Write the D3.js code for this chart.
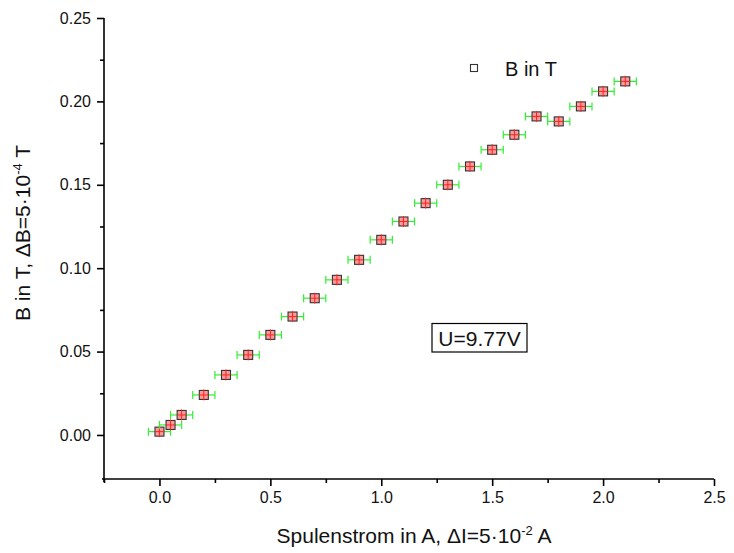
<!DOCTYPE html>
<html>
<head>
<meta charset="utf-8">
<script src="https://cdn.jsdelivr.net/npm/d3@7"></script>
<style>
  html, body { margin: 0; padding: 0; background: #fff; }
  svg { display: block; font-family: "Liberation Sans", Arial, sans-serif; }
</style>
</head>
<body>
<svg id="chart" width="734" height="553"></svg>
<script>
// Coil current (A) and measured field (T)
const current = [0.0, 0.05, 0.1, 0.2, 0.3, 0.4, 0.5, 0.6, 0.7, 0.8, 0.9, 1.0, 1.1, 1.2, 1.3, 1.4, 1.5, 1.6, 1.7, 1.8, 1.9, 2.0, 2.1];
const field   = [0.002, 0.006, 0.012, 0.024, 0.036, 0.048, 0.060, 0.071, 0.082, 0.093, 0.105, 0.117, 0.128, 0.139, 0.150, 0.161, 0.171, 0.180, 0.191, 0.188, 0.197, 0.206, 0.212];
const dI = 0.05;      // current uncertainty (A)
const dB = 0.0005;    // field uncertainty (T)
const xTicks = [0.0, 0.5, 1.0, 1.5, 2.0, 2.5];
const xMinor = [-0.25, 0.25, 0.75, 1.25, 1.75, 2.25];
const yTicks = [0.00, 0.05, 0.10, 0.15, 0.20, 0.25];
const yMinor = [0.025, 0.075, 0.125, 0.175, 0.225];
const legendLabel = "B in T";
const note = "U=9.77V";

const svg = d3.select("#chart");
const plotL = 104, plotR = 714, plotT = 18, plotB = 479;

const x = d3.scaleLinear().domain([-0.25, 2.5]).range([plotL, plotR]);
const y = d3.scaleLinear().domain([-0.0264, 0.25]).range([plotB, plotT]);

// Bottom axis
const gx = svg.append("g").attr("transform", `translate(0,${plotB})`);
gx.call(d3.axisBottom(x).tickValues(xTicks).tickFormat(d3.format(".1f")).tickSizeInner(7).tickSizeOuter(0).tickPadding(6));
gx.append("g").call(d3.axisBottom(x).tickValues(xMinor).tickFormat("").tickSizeInner(4).tickSizeOuter(0))
  .select(".domain").remove();
gx.select(".domain").attr("d", `M${plotL - 2},0H${plotR}`);

// Left axis
const gy = svg.append("g").attr("transform", `translate(${plotL},0)`);
gy.call(d3.axisLeft(y).tickValues(yTicks).tickFormat(d3.format(".2f")).tickSizeInner(7).tickSizeOuter(0).tickPadding(6));
gy.append("g").call(d3.axisLeft(y).tickValues(yMinor).tickFormat("").tickSizeInner(4).tickSizeOuter(0))
  .select(".domain").remove();
gy.select(".domain").attr("d", `M0,${plotT}V${plotB + 3}`);

svg.selectAll(".domain, .tick line").attr("stroke", "#000").attr("stroke-width", 1.6);
svg.selectAll(".tick text").attr("font-size", 16).attr("fill", "#111")
  .attr("font-family", "'Liberation Sans', Arial, sans-serif");

// Axis titles
const xt = svg.append("text").attr("x", 414).attr("y", 543).attr("text-anchor", "middle")
  .attr("font-size", 21).attr("fill", "#111");
xt.append("tspan").text("Spulenstrom in A, \u0394I=5\u00b710");
xt.append("tspan").attr("dy", -8).attr("font-size", 13).text("-2");
xt.append("tspan").attr("dy", 8).text(" A");

const yt = svg.append("text").attr("transform", "translate(30,233) rotate(-90)").attr("text-anchor", "middle")
  .attr("font-size", 21).attr("fill", "#111");
yt.append("tspan").text("B in T, \u0394B=5\u00b710");
yt.append("tspan").attr("dy", -8).attr("font-size", 13).text("-4");
yt.append("tspan").attr("dy", 8).text(" T");

// Data points with error bars
const pts = current.map((c, i) => ({ c, b: field[i] }));
const g = svg.append("g");
const cap = 4;
pts.forEach(p => {
  const px = x(p.c), py = y(p.b);
  const x0 = x(p.c - dI), x1 = x(p.c + dI);
  g.append("line").attr("x1", x0).attr("x2", x1).attr("y1", py).attr("y2", py)
    .attr("stroke", "#33ee33").attr("stroke-width", 1.2);
  g.append("line").attr("x1", x0).attr("x2", x0).attr("y1", py - cap).attr("y2", py + cap)
    .attr("stroke", "#33ee33").attr("stroke-width", 1.2);
  g.append("line").attr("x1", x1).attr("x2", x1).attr("y1", py - cap).attr("y2", py + cap)
    .attr("stroke", "#33ee33").attr("stroke-width", 1.2);
  g.append("rect").attr("x", px - 4.5).attr("y", py - 4.5).attr("width", 9).attr("height", 9)
    .attr("fill", "#ff9a9a").attr("stroke", "#333").attr("stroke-width", 1.1);
  g.append("line").attr("x1", px - 4.5).attr("x2", px + 4.5).attr("y1", py).attr("y2", py)
    .attr("stroke", "#ff2020").attr("stroke-width", 1);
  const ey = Math.max(y(p.b - dB) - py, 5.5);
  g.append("line").attr("x1", px).attr("x2", px).attr("y1", py - ey).attr("y2", py + ey)
    .attr("stroke", "#ff2020").attr("stroke-width", 1);
});

// Legend
svg.append("rect").attr("x", 470.5).attr("y", 64.5).attr("width", 7).attr("height", 7)
  .attr("fill", "#fff").attr("stroke", "#333").attr("stroke-width", 1.1);
svg.append("text").attr("x", 505).attr("y", 76).attr("font-size", 20).attr("fill", "#111").text(legendLabel);

// Annotation box
svg.append("rect").attr("x", 432).attr("y", 323.5).attr("width", 95).attr("height", 28.5)
  .attr("fill", "#fff").attr("stroke", "#000").attr("stroke-width", 1.2);
svg.append("text").attr("x", 479.5).attr("y", 346).attr("text-anchor", "middle")
  .attr("font-size", 21).attr("fill", "#111").text(note);
</script>
</body>
</html>
